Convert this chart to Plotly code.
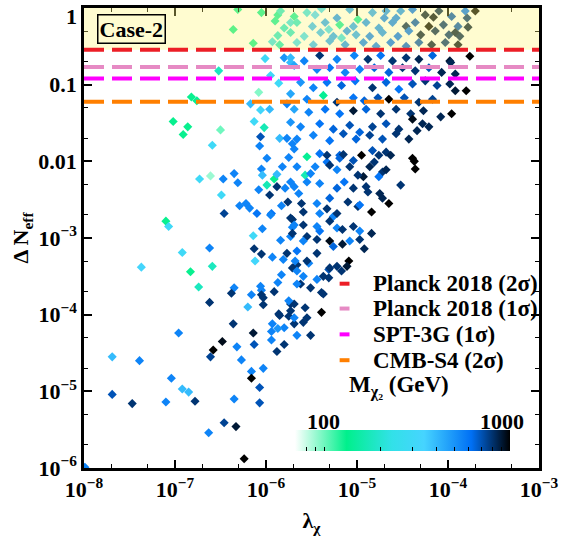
import numpy as np
import plotly.graph_objects as go

# ---------------- data (log10 lambda_chi, log10 Delta N_eff, M_chi2 in GeV) ----------------
lamA = [-6.62,-6.20,-6.03,-6.96,-6.36,-6.14,-6.48,-6.58,-6.32,-6.13,
        -6.61,-7.69,-7.39,-6.27,-6.16,-6.03,-6.16,-7.04,-5.94,-5.85,
        -5.75,-5.80,-5.87,-5.94,-5.88,-5.80,-5.69,-5.73,-6.92,-6.85,
        -7.69,-7.47,-7.10,-6.78,-6.35,-6.07,-6.07,-6.46,-6.33,-6.63,
        -6.24,-7.99]
dnA = [-3.84,-3.90,-3.87,-4.24,-4.12,-4.24,-4.35,-4.46,-4.42,-4.39,
       -4.55,-4.55,-4.60,-4.59,-4.74,-4.70,-4.83,-4.83,-4.22,-4.01,
       -4.02,-4.17,-4.18,-4.33,-4.48,-4.39,-4.12,-3.86,-4.97,-5.01,
       -5.04,-5.16,-5.14,-5.13,-5.10,-4.95,-5.15,-5.41,-5.46,-5.54,
       -5.88,-5.99]
mA = [800,400,800,550,800,900,950,1000,550,700,
      750,400,550,550,550,550,1000,550,550,800,
      800,550,500,550,800,800,800,800,400,400,
      700,800,550,800,550,700,700,750,900,550,
      1000,550]

lamB = [-6.59,-6.07,-5.99,-5.75,-6.73,-6.61,-6.47,-6.35,-6.31,-6.05,
        -6.04,-5.91,-5.88,-6.08,-5.99,-5.96,-5.88,-5.79,-5.73,-6.49,
        -6.29,-6.22,-6.18,-6.10,-5.94,-5.83,-5.76,-6.46,-7.10,-7.07,
        -6.14,-6.04,-5.84,-5.73,-5.71,-5.71,-6.92,-6.62,-7.37,-6.83,
        -6.59,-6.13,-6.05,-5.93,-6.12,-5.81,-5.77,-5.83,-5.71,-6.74,
        -6.35,-6.38,-6.16,-6.05,-6.05,-5.91]
dnB = [-1.79,-1.80,-1.96,-1.95,-2.23,-2.19,-2.23,-2.16,-2.28,-2.10,
       -2.18,-2.23,-2.17,-2.37,-2.31,-2.44,-2.33,-2.35,-2.27,-2.44,
       -2.58,-2.55,-2.61,-2.68,-2.68,-2.58,-2.53,-2.68,-2.78,-2.85,
       -2.97,-2.88,-3.03,-2.98,-2.86,-2.76,-3.19,-3.13,-3.38,-3.44,
       -3.37,-3.14,-3.21,-3.25,-3.30,-3.28,-3.20,-3.48,-3.39,-3.64,
       -3.65,-3.72,-3.74,-3.68,-3.74,-3.70]
mB = [300,550,550,550,300,90,550,550,550,550,
      400,130,400,550,170,800,800,550,550,300,
      550,550,550,600,600,550,800,750,130,300,
      300,550,550,550,550,800,300,550,330,130,
      180,800,800,550,320,550,800,550,800,180,
      550,800,550,550,800,800]

lamC = [-6.36,-6.14,-6.31,-6.05,-5.87,-5.84,-5.73,-5.90,-5.80,-5.87,
        -5.93,-5.85,-6.01,-6.52,-5.95,-5.86,-6.08,-6.82,-6.76,-6.17,
        -6.06,-5.96,-5.77,-6.13,-6.02,-7.02,-6.86,-6.91,-6.50,-6.06,
        -5.85,-5.77,-5.71,-5.80,-5.73]
dnC = [-0.28,-0.46,-0.02,-0.06,-0.09,-0.04,-0.19,-0.17,-0.26,-0.36,
       -0.44,-0.48,-0.66,-0.82,-0.88,-0.98,-1.10,-1.16,-1.21,-1.25,
       -1.33,-1.32,-1.25,-1.48,-1.56,-1.48,-1.55,-1.65,-1.59,-1.68,
       -1.70,-1.70,-1.77,-0.65,-0.71]
mC = [130,130,130,140,150,200,250,150,200,200,
      250,180,300,180,300,300,95,130,140,400,
      320,400,550,300,170,130,130,130,100,700,
      400,550,550,500,400]

lamD = [-5.69,-5.55,-5.39,-5.22,-5.08,-4.99,-4.83,-4.68,-4.57,-4.52,
        -4.39,-4.25,-4.10,-3.96,-3.81,-3.79,-3.70,-5.66,-5.49,-5.35,
        -5.19,-5.04,-4.90,-4.76,-4.61,-4.46,-4.21,-4.05,-3.89,-3.78,
        -5.73,-5.58,-5.40,-5.26,-5.11,-5.01,-4.86,-4.72,-4.55,-4.43,
        -4.30,-4.14,-3.99,-3.87,-5.66,-5.48,-5.30,-5.13,-4.93,-4.79,
        -4.63,-4.46,-4.32,-4.18,-4.03,-3.89,-5.46,-5.31,-5.17,-4.70,
        -4.36,-4.16,-3.92]
dnD = [-0.11,-0.06,-0.01,-0.13,-0.02,-0.15,-0.06,-0.04,-0.13,-0.04,
       -0.02,-0.09,-0.04,-0.11,-0.04,-0.13,-0.04,-0.19,-0.24,-0.19,
       -0.22,-0.24,-0.19,-0.26,-0.19,-0.24,-0.24,-0.22,-0.24,-0.25,
       -0.32,-0.37,-0.32,-0.37,-0.30,-0.35,-0.37,-0.32,-0.37,-0.30,
       -0.35,-0.30,-0.35,-0.37,-0.45,-0.48,-0.43,-0.48,-0.45,-0.50,
       -0.45,-0.50,-0.45,-0.48,-0.45,-0.48,-0.09,-0.28,-0.39,-0.13,
       -0.19,-0.12,-0.32]
mD = [150,250,300,500,450,150,450,500,550,500,
      600,900,850,700,600,800,1000,200,400,450,
      150,450,500,500,550,850,1000,800,700,900,
      200,300,400,450,500,450,550,500,600,600,
      900,850,800,850,300,400,450,500,550,550,
      600,650,700,900,800,950,350,300,250,550,
      700,950,900]

lamE = [-5.73,-5.58,-5.41,-5.22,-5.03,-4.88,-4.74,-4.61,-4.46,-4.32,
        -4.17,-3.98,-3.76,-5.69,-5.44,-5.30,-5.13,-4.97,-4.81,-4.65,
        -4.50,-4.36,-4.21,-4.07,-3.97,-3.92,-5.62,-5.48,-5.33,-5.17,
        -5.02,-4.83,-4.68,-4.54,-4.39,-4.25,-4.12,-3.98,-3.92,-3.80,
        -5.73,-5.55,-5.37,-5.22,-5.04,-4.92,-4.77,-4.65,-4.48,-4.32,
        -4.17,-5.69,-5.53,-5.35,-5.19,-5.04,-4.90,-4.74,-4.57,-4.41,
        -4.27,-4.08,-3.96,-5.73,-5.62,-5.41,-5.26,-5.08,-4.97,-4.83,
        -4.68,-4.54,-4.39,-4.28,-4.21,-5.66,-5.48,-5.30,-5.15,-5.01,
        -4.86,-4.72,-4.57,-4.43,-4.34,-5.69,-5.55,-5.41,-5.19,-4.95,
        -4.83,-4.68,-4.39]
dnE = [-0.65,-0.69,-0.62,-0.67,-0.62,-0.67,-0.62,-0.69,-0.65,-0.67,
       -0.62,-0.69,-0.63,-0.75,-0.80,-0.78,-0.84,-0.80,-0.78,-0.84,
       -0.78,-0.82,-0.78,-0.84,-0.71,-0.86,-0.97,-1.04,-0.97,-1.01,
       -0.95,-1.04,-0.97,-1.06,-0.99,-0.95,-1.01,-0.99,-1.08,-1.08,
       -1.12,-1.19,-1.14,-1.23,-1.17,-1.21,-1.17,-1.19,-1.17,-1.23,
       -1.19,-1.32,-1.36,-1.32,-1.38,-1.34,-1.32,-1.38,-1.32,-1.38,
       -1.34,-1.42,-1.38,-1.49,-1.55,-1.51,-1.58,-1.53,-1.62,-1.55,
       -1.51,-1.58,-1.45,-1.51,-1.55,-1.71,-1.66,-1.73,-1.64,-1.71,
       -1.66,-1.71,-1.64,-1.71,-1.60,-1.84,-1.94,-1.90,-1.92,-1.92,
       -1.86,-1.88,-1.96]
mE = [400,550,800,550,550,800,600,800,800,850,
      650,900,1000,450,550,600,550,550,650,650,
      800,800,700,850,850,850,500,550,600,650,
      600,800,650,600,700,800,750,850,900,1000,
      450,550,140,800,600,650,700,1000,700,800,
      750,450,550,600,600,900,650,800,800,800,
      850,850,1000,500,550,600,650,700,650,750,
      700,800,950,850,850,550,550,600,700,650,
      750,700,800,850,850,550,140,600,650,1000,
      700,800,1000]

lamF = [-4.37,-4.36,-4.52,-4.65,-4.84,-4.84,-4.92,-5.09,-5.11,-5.22,
        -5.17,-5.39,-5.57,-5.66,-5.46,-5.33,-5.19,-5.04,-4.81,-4.72,
        -4.93,-5.04,-5.22,-5.41,-5.30,-5.10,-4.99,-4.88,-4.75,-4.72,
        -5.59,-5.41,-5.26,-5.04,-5.22,-5.41,-5.55,-5.30,-5.08,-4.97,
        -5.69,-5.66,-5.44,-5.26,-5.53,-5.66,-5.31,-5.59,-5.44,-5.37,
        -5.31,-5.62,-5.51,-5.39,-5.69,-5.57,-5.69]
dnF = [-2.00,-2.10,-2.31,-2.55,-2.66,-2.94,-3.14,-3.30,-3.37,-3.37,
       -3.43,-3.97,-2.18,-2.07,-2.07,-2.01,-1.96,-1.99,-2.01,-2.14,
       -2.20,-2.35,-2.35,-2.29,-2.48,-2.53,-2.59,-2.40,-2.42,-2.48,
       -2.66,-2.68,-2.72,-2.85,-2.87,-2.91,-2.98,-3.04,-3.04,-3.02,
       -2.83,-3.17,-3.20,-3.11,-3.33,-3.35,-3.41,-3.50,-3.54,-3.50,
       -3.52,-3.60,-3.65,-3.71,-3.86,-3.91,-4.04]
mF = [1000,1000,800,1000,1000,850,850,1000,900,800,
      800,1000,170,550,550,600,650,700,800,800,
      900,800,650,550,650,800,800,800,850,850,
      800,550,550,800,550,600,800,950,550,800,
      550,600,800,650,550,800,700,550,550,800,
      800,800,800,800,800,800,550]

lamG = [-5.33,-5.15,-4.76,-4.63,-5.82,-5.51,-5.30,-5.22,-5.08,-4.99,
        -4.86,-4.76,-4.68,-5.69,-5.55,-5.64,-5.14,-4.90,-5.61,-5.44,
        -5.33,-5.22,-4.97,-5.95,-5.73,-5.59,-5.44,-5.30,-5.16,-4.97,
        -5.71,-5.59,-5.44,-5.16,-5.68,-5.55,-5.30,-5.66,-6.06,-5.87,
        -5.66,-5.37,-6.03,-5.75,-5.55,-5.73,-5.86,-5.93,-5.59,-5.66,
        -5.51]
dnG = [-1.92,-1.91,-1.92,-1.92,-2.07,-2.16,-2.05,-2.11,-2.07,-2.18,
       -2.07,-2.20,-2.11,-2.33,-2.27,-2.42,-2.27,-2.33,-2.55,-2.55,
       -2.62,-2.68,-2.57,-2.70,-2.74,-2.83,-2.85,-2.78,-2.89,-2.91,
       -2.94,-3.04,-3.02,-3.08,-3.30,-3.30,-3.39,-3.43,-3.63,-3.58,
       -3.60,-3.73,-3.78,-3.82,-4.04,-3.95,-3.99,-4.12,-4.10,-4.27,
       -4.27]
mG = [800,800,800,850,550,550,800,550,800,800,
      850,600,850,550,550,550,600,800,800,550,
      800,800,600,550,800,800,550,800,800,550,
      800,550,800,900,550,800,800,550,550,550,
      550,800,800,550,800,800,800,550,800,550,
      800]

# CMB bounds on Delta N_eff
bound_values = [0.285, 0.17, 0.12, 0.06]
bound_labels = ["Planck 2018 (2σ)", "Planck 2018 (1σ)", "SPT-3G (1σ)", "CMB-S4 (2σ)"]
bound_colors = ["rgb(236,30,38)", "rgb(230,138,196)", "rgb(255,0,255)", "rgb(255,127,0)"]

x_tick_vals = [1e-8, 1e-7, 1e-6, 1e-5, 1e-4, 1e-3]
x_tick_text = ["10<sup>−8</sup>", "10<sup>−7</sup>", "10<sup>−6</sup>",
               "10<sup>−5</sup>", "10<sup>−4</sup>", "10<sup>−3</sup>"]
y_tick_vals = [1e-6, 1e-5, 1e-4, 1e-3, 1e-2, 1e-1, 1]
y_tick_text = ["10<sup>−6</sup>", "10<sup>−5</sup>", "10<sup>−4</sup>",
               "10<sup>−3</sup>", "0.01", "0.1", ""]
y_top_label = "1"
cbar_ticks = [80, 90, 100, 200, 300, 400, 500, 600, 700, 800, 900, 1000]
cbar_labels = [100, 1000]
mass_min, mass_max = 70, 1000

# ---------------- assemble ----------------
lam_exp = lamA + lamB + lamC + lamD + lamE + lamF + lamG
dn_exp = dnA + dnB + dnC + dnD + dnE + dnF + dnG
mass = np.array(mA + mB + mC + mD + mE + mF + mG, dtype=float)
lam = 10 ** np.array(lam_exp)
dneff = 10 ** np.array(dn_exp)

FONT = "Liberation Serif"
cmin, cmax = np.log10(mass_min), np.log10(mass_max)
cscale = [[0.0, "rgb(255,255,255)"], [0.24, "rgb(0,240,140)"],
          [0.45, "rgb(50,225,232)"], [0.6, "rgb(70,212,255)"],
          [0.82, "rgb(0,112,245)"], [1.0, "rgb(0,0,0)"]]

# plot-area geometry (pixels) used for placing layout decorations
W, H = 564, 540
ML, MR, MT, MB = 84, 19, 5, 72
PW, PH = W - ML - MR, H - MT - MB


def px_x(p):
    return (p - ML) / PW


def px_y(p):
    return (H - MB - p) / PH


def yfrac(v):
    return (np.log10(v) + 6) / 6


fig = go.Figure()
fig.add_trace(go.Scatter(
    x=lam, y=dneff, mode="markers", showlegend=False,
    marker=dict(symbol="diamond", size=7, color=np.log10(mass),
                colorscale=cscale, cmin=cmin, cmax=cmax, line=dict(width=0),
                colorbar=dict(orientation="h", x=px_x(298), xanchor="left",
                              len=(516 - 298) / PW, lenmode="fraction",
                              thickness=21, y=px_y(455), yanchor="bottom",
                              xpad=0, ypad=0, outlinewidth=0,
                              tickvals=list(np.log10(cbar_ticks)), ticks="inside",
                              ticklen=4, tickwidth=1, tickcolor="black",
                              showticklabels=False)),
))

shapes = [dict(type="rect", xref="paper", yref="paper", x0=0, x1=1,
               y0=yfrac(bound_values[0]), y1=1, fillcolor="rgb(255,245,120)",
               opacity=0.35, line=dict(width=0), layer="above")]
for v, c in zip(bound_values, bound_colors):
    shapes.append(dict(type="line", xref="paper", yref="paper", x0=0, x1=1,
                       y0=yfrac(v), y1=yfrac(v), layer="above",
                       line=dict(color=c, width=4, dash="20px,8px")))

bold = dict(family=FONT, size=22, color="black", weight="bold")
bold_leg = dict(family=FONT, size=23, color="black", weight="bold")
annotations = [dict(text="Case-2", xref="paper", yref="paper", x=px_x(132), y=px_y(26.5),
                    xanchor="center", yanchor="middle", showarrow=False, font=bold,
                    bgcolor="rgb(255,252,208)", bordercolor="black", borderwidth=1.5,
                    borderpad=1),
               dict(text=y_top_label, xref="paper", yref="paper", x=px_x(79), y=px_y(14),
                    xanchor="right", yanchor="middle", showarrow=False, font=bold)]
leg_y = [282.5, 307.5, 333.5, 359.5]
for yy, lab, c in zip(leg_y, bound_labels, bound_colors):
    shapes.append(dict(type="line", xref="paper", yref="paper", x0=px_x(343), x1=px_x(353),
                       y0=px_y(yy), y1=px_y(yy), layer="above", line=dict(color=c, width=4)))
    annotations.append(dict(text=lab, xref="paper", yref="paper", x=px_x(375), y=px_y(yy),
                            xanchor="left", yanchor="middle", showarrow=False, font=bold_leg))
annotations.append(dict(text="M<sub>χ₂</sub> (GeV)", xref="paper", yref="paper",
                        x=px_x(350), y=px_y(386), xanchor="left", yanchor="middle",
                        showarrow=False, font=bold_leg))
for lab, xp in zip(cbar_labels, [327, 508]):
    annotations.append(dict(text=str(lab), xref="paper", yref="paper", x=px_x(xp),
                            y=px_y(421), xanchor="center", yanchor="middle",
                            showarrow=False, font=bold))

axis_common = dict(type="log", showgrid=False, zeroline=False, showline=True,
                   linewidth=2.5, linecolor="black", mirror="allticks",
                   ticks="inside", ticklen=8, tickwidth=1.5, tickcolor="black",
                   tickfont=bold, ticklabeloverflow="allow",
                   minor=dict(ticks="inside", ticklen=4, tickwidth=1,
                              tickcolor="black", showgrid=False))

fig.update_layout(
    width=W, height=H, margin=dict(l=ML, r=MR, t=MT, b=MB),
    paper_bgcolor="white", plot_bgcolor="white",
    xaxis=dict(**axis_common, range=[-8, -3], tickvals=x_tick_vals, ticktext=x_tick_text,
               title=dict(text="λ<sub>χ</sub>", font=bold, standoff=12)),
    yaxis=dict(**axis_common, range=[-6, 0], tickvals=y_tick_vals, ticktext=y_tick_text,
               title=dict(text="Δ N<sub>eff</sub>", font=bold, standoff=4)),
    shapes=shapes, annotations=annotations,
)

fig.write_html("out.html")
